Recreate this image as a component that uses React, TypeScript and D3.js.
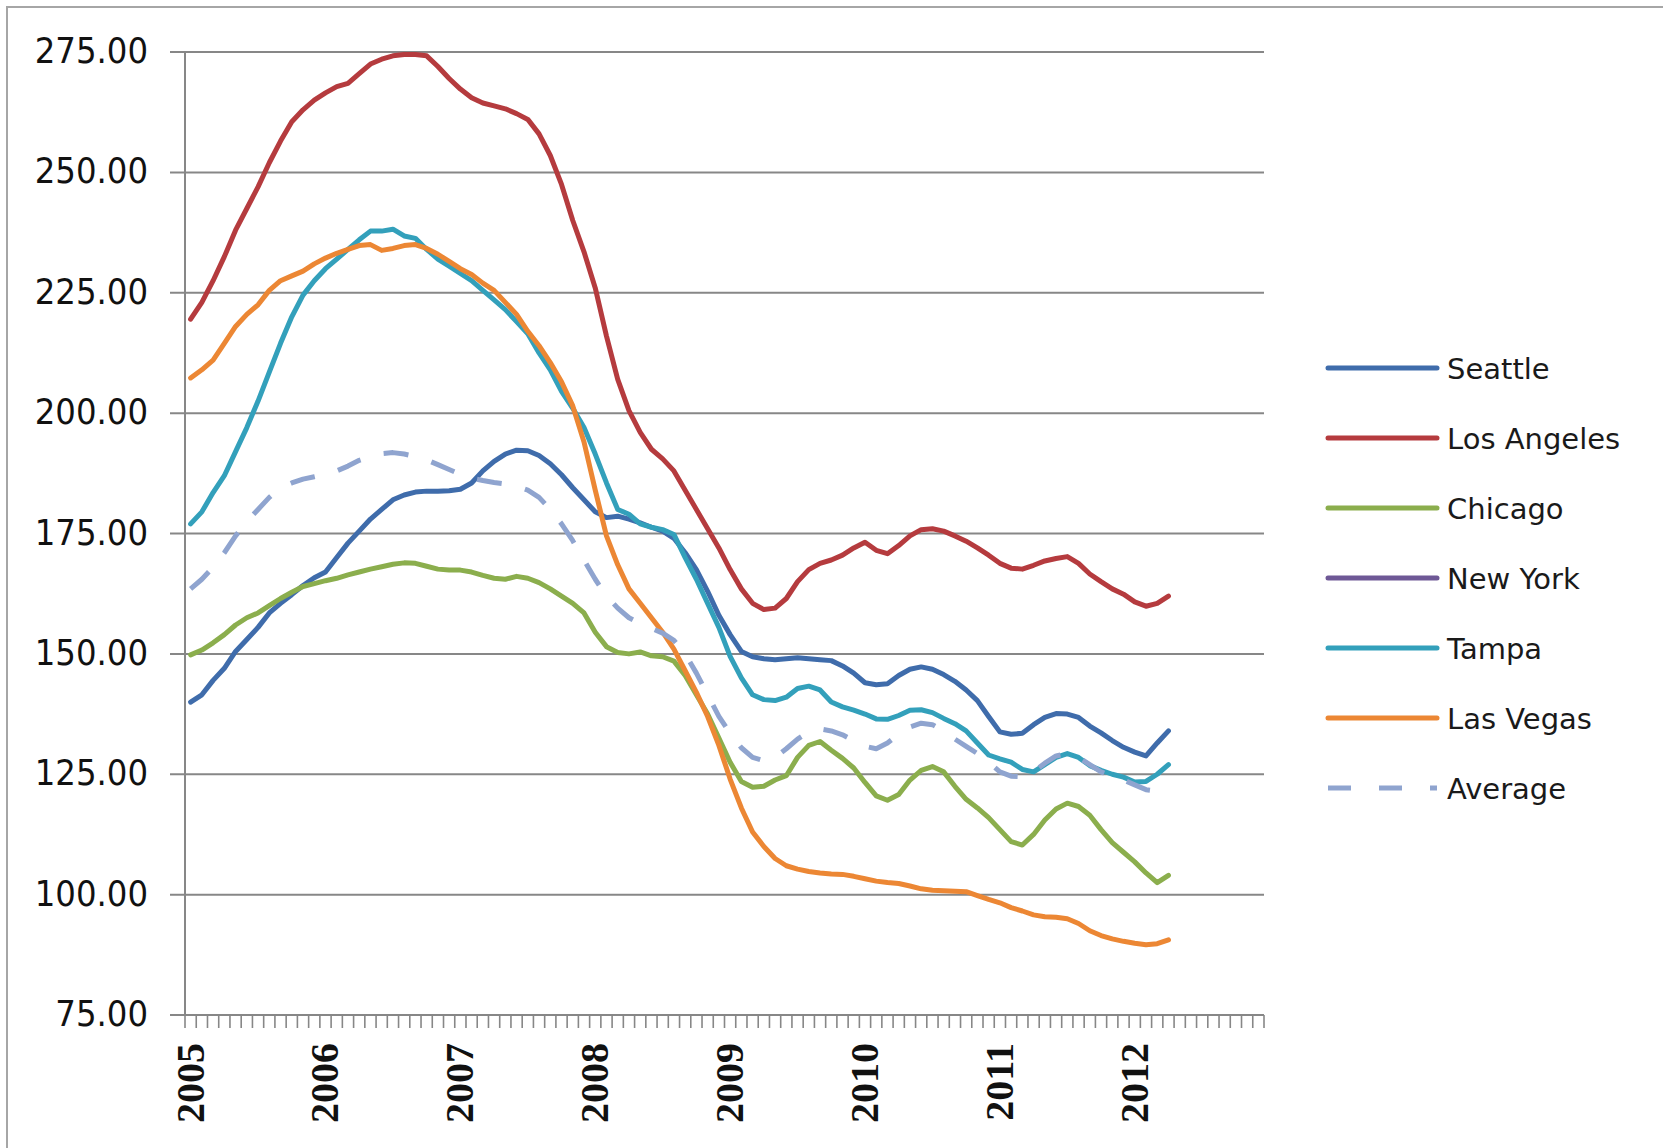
import React from 'react';
import * as d3 from 'd3';

// ---- data ----
const yearLabels = ['2005', '2006', '2007', '2008', '2009', '2010', '2011', '2012'];
const categoryCount = 96; // monthly categories Jan 2005 .. Dec 2012
const yTickValues = [75, 100, 125, 150, 175, 200, 225, 250, 275];

const seattle = [
  140, 141.5, 144.5, 147, 150.5, 153, 155.5, 158.5, 160.5, 162.3, 164.2, 165.8,
  167, 170, 173, 175.5, 178, 180, 182, 183, 183.6, 183.8, 183.8, 183.9,
  184.2, 185.5, 188, 190, 191.5, 192.3, 192.2, 191.2, 189.5, 187.2, 184.5, 182,
  179.5, 178.3, 178.6, 178, 177.2, 176.3, 175.5, 174, 171, 167.5, 163, 158,
  154, 150.5, 149.4, 149, 148.8, 149, 149.2, 149, 148.8, 148.6, 147.5, 146,
  144, 143.6, 143.8, 145.5, 146.8, 147.3, 146.8, 145.7, 144.3, 142.5, 140.3, 137,
  133.8, 133.3, 133.5, 135.3, 136.8, 137.6, 137.5, 136.8, 135, 133.6, 132, 130.6,
  129.6, 128.8, 131.5, 134,
];

const losAngeles = [
  219.5, 223, 227.5, 232.5, 238, 242.5, 247, 252, 256.5, 260.5, 263, 265,
  266.5, 267.8, 268.5, 270.5, 272.5, 273.5, 274.2, 274.5, 274.5, 274.2, 272, 269.5,
  267.3, 265.5, 264.4, 263.8, 263.2, 262.2, 261, 258, 253.5, 247.5, 240, 233.5,
  226, 216, 207, 200.5, 196, 192.5, 190.5, 188, 184, 180, 176, 172,
  167.5, 163.5, 160.5, 159.2, 159.5, 161.5, 165, 167.5, 168.8, 169.5, 170.5, 172,
  173.2, 171.5, 170.8, 172.5, 174.5, 175.8, 176, 175.5, 174.5, 173.4, 172, 170.5,
  168.8, 167.8, 167.6, 168.4, 169.3, 169.8, 170.2, 168.8, 166.6, 165, 163.5, 162.4,
  160.8, 159.9, 160.5, 162,
];

const chicago = [
  149.8, 150.8, 152.3, 154, 156, 157.5, 158.5, 160, 161.5, 162.8, 164, 164.6,
  165.2, 165.7, 166.4, 167, 167.6, 168.1, 168.6, 168.9, 168.8, 168.2, 167.6, 167.4,
  167.4, 167, 166.3, 165.7, 165.5, 166.1, 165.7, 164.8, 163.5, 162, 160.5, 158.5,
  154.5, 151.5, 150.3, 150, 150.4, 149.6, 149.4, 148.5, 145.5, 141.5, 137.5, 132.5,
  127.5, 123.5, 122.3, 122.5, 123.8, 124.7, 128.5, 131, 131.8, 130, 128.3, 126.3,
  123.3, 120.5, 119.6, 120.8, 123.8, 125.8, 126.6, 125.5, 122.5, 119.8, 118, 116,
  113.5, 111, 110.3, 112.5, 115.5, 117.8, 119, 118.3, 116.5, 113.5, 110.8, 108.8,
  106.8, 104.5, 102.5, 104,
];

const newYork: number[] = [];

const tampa = [
  177, 179.5, 183.5, 187, 192, 197, 202.5, 208.5, 214.5, 220, 224.5, 227.5,
  230, 232, 234, 236, 237.8, 237.8, 238.2, 236.8, 236.3, 234, 232, 230.5,
  229, 227.5, 225.5, 223.5, 221.5, 219, 216.5, 212.5, 209, 204.5, 201, 197,
  191.5, 185.5, 180, 179, 177, 176.3, 175.8, 174.8, 170, 165.5, 160.5, 155.5,
  149.5, 145, 141.5, 140.5, 140.3, 141, 142.8, 143.3, 142.5, 140, 139, 138.3,
  137.5, 136.5, 136.4, 137.2, 138.3, 138.4, 137.8, 136.6, 135.5, 134, 131.5, 129,
  128.2, 127.5, 126, 125.5, 127, 128.5, 129.3, 128.5, 126.8, 125.8, 125, 124.4,
  123.4, 123.5, 125, 127,
];

const lasVegas = [
  207.3, 209, 211, 214.5, 218, 220.5, 222.5, 225.5, 227.5, 228.5, 229.5, 231,
  232.2, 233.2, 234, 234.8, 235, 233.8, 234.2, 234.8, 235, 234.2, 233, 231.5,
  230, 228.8, 227, 225.5, 223, 220.5, 217, 214, 210.5, 206.5, 201.5, 194,
  184, 174.5, 168.5, 163.5, 160.5, 157.5, 154.5, 151, 146.5, 142, 137, 131,
  124, 118, 113, 110, 107.5, 106, 105.3, 104.8, 104.5, 104.3, 104.2, 103.8,
  103.3, 102.8, 102.5, 102.3, 101.8, 101.2, 100.9, 100.8, 100.7, 100.6, 99.8, 99,
  98.3, 97.3, 96.6, 95.8, 95.4, 95.3, 95, 94, 92.5, 91.5, 90.8, 90.3,
  89.9, 89.6, 89.8, 90.6,
];

const average = [
  163.5, 165.5, 168, 171, 174.5, 177.5, 180, 182.5, 184.5, 185.5, 186.3, 186.8,
  187.3, 188, 189, 190.2, 191, 191.6, 191.8, 191.5, 191, 190.3, 189.3, 188.3,
  187.3, 186.5, 186, 185.6, 185.3, 184.8, 184, 182.5, 180, 177, 173.5, 169.5,
  165.5, 162, 159.5, 157.5, 156.3, 155.3, 154.3, 152.8, 150, 146, 141.5, 137,
  133.5, 130.5, 128.5, 127.8, 128.5, 130.3, 132.3, 133.8, 134.4, 134, 133.2, 132,
  130.8, 130.3, 131.5, 133.3, 134.8, 135.6, 135.3, 134, 132.3, 130.8, 129.3, 127.5,
  125.5, 124.6, 124.5, 125.5, 127.3, 128.8, 129.3, 128.5, 127, 125.5, 124.6, 123.8,
  122.8, 121.8, 121.5,
];

const seriesNames = ['Seattle', 'Los Angeles', 'Chicago', 'New York', 'Tampa', 'Las Vegas', 'Average'];
const seriesValues = [seattle, losAngeles, chicago, newYork, tampa, lasVegas, average];
const seriesColors = ['#3F6CAB', '#B53B3E', '#8BAE4D', '#6E5896', '#33A0BB', '#EC8734', '#8FA4CF'];
const seriesDashed = [false, false, false, false, false, false, true];

export default function App() {
  const W = 1663;
  const H = 1148;
  const left = 185;
  const right = 1264;
  const top = 52;
  const bottom = 1015;

  const x = d3.scaleLinear().domain([0, categoryCount]).range([left, right]);
  const y = d3.scaleLinear().domain([75, 275]).range([bottom, top]);
  const xc = (i: number) => x(i + 0.5);

  const line = d3
    .line<number>()
    .x((_d, i) => xc(i))
    .y((d) => y(d));

  const ticks = d3.range(categoryCount + 1);
  const gridColor = '#878787';

  const legendX0 = 1328;
  const legendX1 = 1437;
  const legendY0 = 368;
  const legendStep = 70;
  const lineW = 5;

  return (
    <svg
      width={W}
      height={H}
      style={{ position: 'absolute', left: 0, top: 0, background: '#fff' }}
    >
      <rect x={0} y={0} width={W} height={H} fill="#fff" />
      {/* outer chart border (right/bottom edges fall outside the picture) */}
      <rect x={7} y={7} width={W + 20} height={H + 20} fill="none" stroke="#a6a6a6" strokeWidth={2} />

      {/* horizontal gridlines */}
      {yTickValues.map((v) => (
        <line key={'g' + v} x1={170} x2={right} y1={y(v)} y2={y(v)} stroke={gridColor} strokeWidth={2} />
      ))}
      {/* vertical axis */}
      <line x1={left} x2={left} y1={top} y2={bottom} stroke={gridColor} strokeWidth={2} />
      {/* x tick marks */}
      {ticks.map((t) => (
        <line key={'t' + t} x1={x(t)} x2={x(t)} y1={bottom} y2={bottom + 13} stroke={gridColor} strokeWidth={1.6} />
      ))}

      {/* y tick labels */}
      {yTickValues.map((v) => (
        <text
          key={'yl' + v}
          x={148}
          y={y(v) + 11}
          textAnchor="end"
          fontFamily="'DejaVu Sans Condensed', 'DejaVu Sans', sans-serif"
          fontStretch="condensed"
          fontSize={36}
          fill="#111"
        >
          {v.toFixed(2)}
        </text>
      ))}

      {/* x tick labels */}
      {yearLabels.map((lab, k) => {
        const cx = xc(k * 12) + 13;
        const ty = 1043;
        return (
          <text
            key={'xl' + lab}
            x={cx}
            y={ty}
            transform={`rotate(-90 ${cx} ${ty})`}
            textAnchor="end"
            fontFamily="'Liberation Serif', 'Times New Roman', serif"
            fontWeight="bold"
            fontSize={40}
            fill="#111"
          >
            {lab}
          </text>
        );
      })}

      {/* series lines */}
      {seriesValues.map((vals, s) =>
        vals.length > 0 ? (
          <path
            key={'s' + s}
            d={line(vals) || ''}
            fill="none"
            stroke={seriesColors[s]}
            strokeWidth={lineW}
            strokeLinejoin="round"
            strokeLinecap={seriesDashed[s] ? 'butt' : 'round'}
            strokeDasharray={seriesDashed[s] ? '25 24' : undefined}
          />
        ) : null
      )}

      {/* legend */}
      {seriesNames.map((name, s) => {
        const ly = legendY0 + s * legendStep;
        return (
          <g key={'lg' + name}>
            <line
              x1={legendX0}
              x2={legendX1}
              y1={ly}
              y2={ly}
              stroke={seriesColors[s]}
              strokeWidth={lineW}
              strokeLinecap={seriesDashed[s] ? 'butt' : 'round'}
              strokeDasharray={seriesDashed[s] ? '23 28' : undefined}
            />
            <text
              x={1447}
              y={ly + 11}
              fontFamily="'DejaVu Sans', sans-serif"
              fontSize={29}
              fill="#1a1a1a"
            >
              {name}
            </text>
          </g>
        );
      })}
    </svg>
  );
}
